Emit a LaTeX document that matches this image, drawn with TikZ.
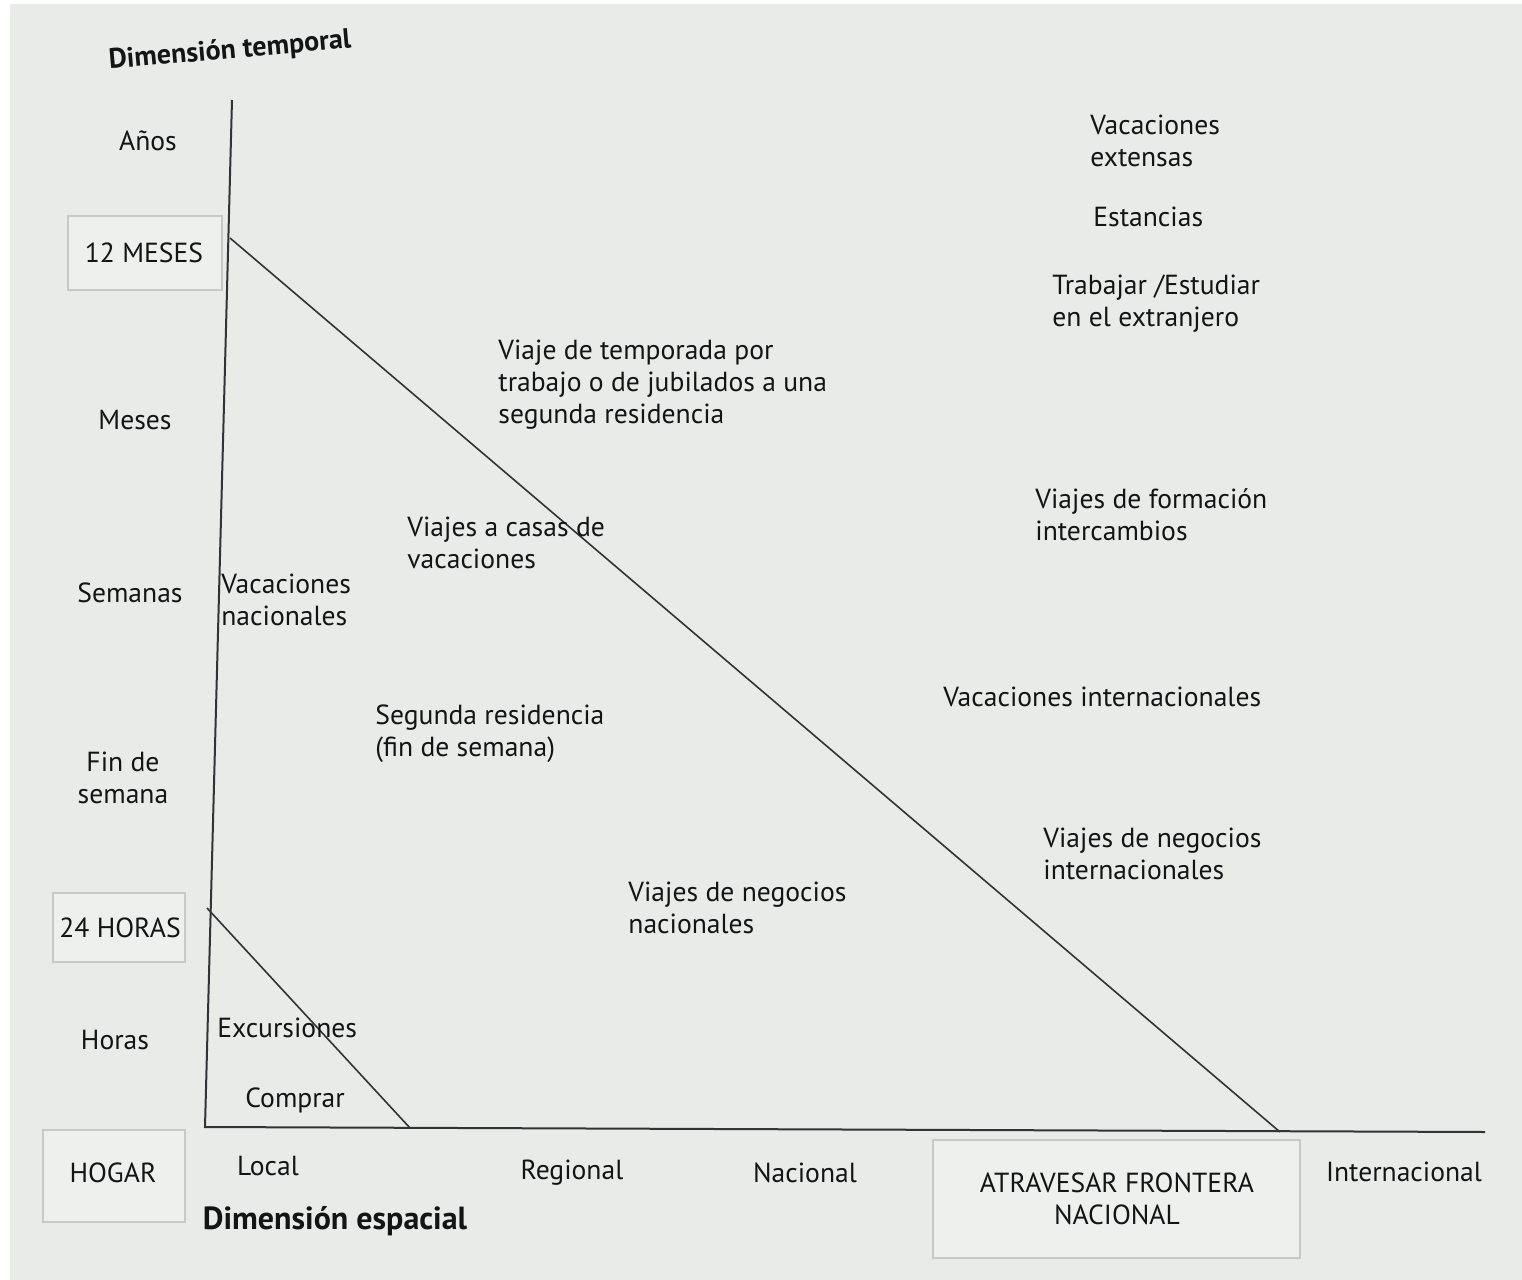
\documentclass[tikz,border=0pt]{standalone}
\usepackage{fontspec}
\setmainfont{PT Sans}
\definecolor{paper}{RGB}{232,235,232}
\definecolor{ink}{RGB}{20,20,22}
\definecolor{axis}{RGB}{50,50,55}
\definecolor{boxline}{RGB}{198,201,199}
\begin{document}
\begin{tikzpicture}[x=0.5pt,y=-0.5pt,
  lbl/.style={text=ink,font=\fontsize{13.8}{16}\selectfont,inner sep=0pt,align=left,anchor=west},
  clbl/.style={text=ink,font=\fontsize{13.8}{16}\selectfont,inner sep=0pt,align=center},
  head/.style={text=ink,font=\fontsize{15}{16}\selectfont\bfseries,inner sep=0pt},
  tag/.style={draw=boxline,line width=0.8pt,fill=paper!75!white},
  axisline/.style={draw=axis,line width=1pt},
  diag/.style={draw=axis,line width=0.8pt}]
\fill[paper] (0,0) rectangle (1522,1280);
\fill[white] (0,0) rectangle (10,1280);
\fill[white] (0,0) rectangle (1522,4);
\useasboundingbox (0,0) rectangle (1522,1280);

% boxes
\draw[tag] (68,216) rectangle (222,290);
\draw[tag] (53,893) rectangle (185,962);
\draw[tag] (43,1130) rectangle (185,1222);
\draw[tag] (933,1140) rectangle (1300,1258);

% axis coordinates
\coordinate (ytop) at (232,100);
\coordinate (origin) at (205,1127);
\coordinate (xend) at (1485,1132);
\coordinate (m12) at (230,238);
\coordinate (h24) at (207,908);
\coordinate (front) at (1280,1132);
\coordinate (reg) at (410,1128);

\draw[axisline] (ytop) -- (origin) -- (xend);
\draw[diag] (m12) -- (front);
\draw[diag] (h24) -- (reg);

% vertical-axis labels
\node[head,rotate=5,font=\fontsize{14}{16}\selectfont\bfseries] (dt) at (230,51) {Dimensión temporal};
\node[clbl] (anos) at (148,141) {Años};
\node[clbl] (meses12) at (144,253) {12 MESES};
\node[clbl] (meses) at (135,420) {Meses};
\node[clbl] (semanas) at (130,593) {Semanas};
\node[clbl] (finde) at (123,778) {Fin de\\semana};
\node[clbl] (horas24) at (120,928) {24 HORAS};
\node[clbl] (horas) at (115,1040) {Horas};
\node[clbl] (hogar) at (113,1173) {HOGAR};

% horizontal-axis labels
\node[clbl] (local) at (268,1166) {Local};
\node[head,font=\fontsize{16}{16}\selectfont\bfseries] (de) at (335,1221) {Dimensión espacial};
\node[clbl] (regional) at (572,1173) {Regional};
\node[clbl] (nacional) at (805,1173) {Nacional};
\node[clbl] (atrav) at (1117,1199) {ATRAVESAR FRONTERA\\NACIONAL};
\node[clbl] (intl) at (1404,1172) {Internacional};

% content labels
\node[lbl] (vext) at (1090,141) {Vacaciones\\extensas};
\node[lbl] (est) at (1093,217) {Estancias};
\node[lbl] (trab) at (1052,304) {Trabajar /Estudiar\\en el extranjero};
\node[lbl] (vtemp) at (498,385) {Viaje de temporada por\\trabajo o de jubilados a una\\segunda residencia};
\node[lbl] (vform) at (1035,515) {Viajes de formación\\intercambios};
\node[lbl] (vcasas) at (407,543) {Viajes a casas de\\vacaciones};
\node[lbl] (vnac) at (221,600) {Vacaciones\\nacionales};
\node[lbl] (vint) at (943,697) {Vacaciones internacionales};
\node[lbl] (sres) at (375,734) {Segunda residencia\\(fin de semana)};
\node[lbl] (vnegi) at (1043,854) {Viajes de negocios\\internacionales};
\node[lbl] (vnegn) at (628,908) {Viajes de negocios\\nacionales};
\node[lbl] (exc) at (217,1028) {Excursiones};
\node[lbl] (comp) at (245,1100) {Comprar};
\end{tikzpicture}
\end{document}
